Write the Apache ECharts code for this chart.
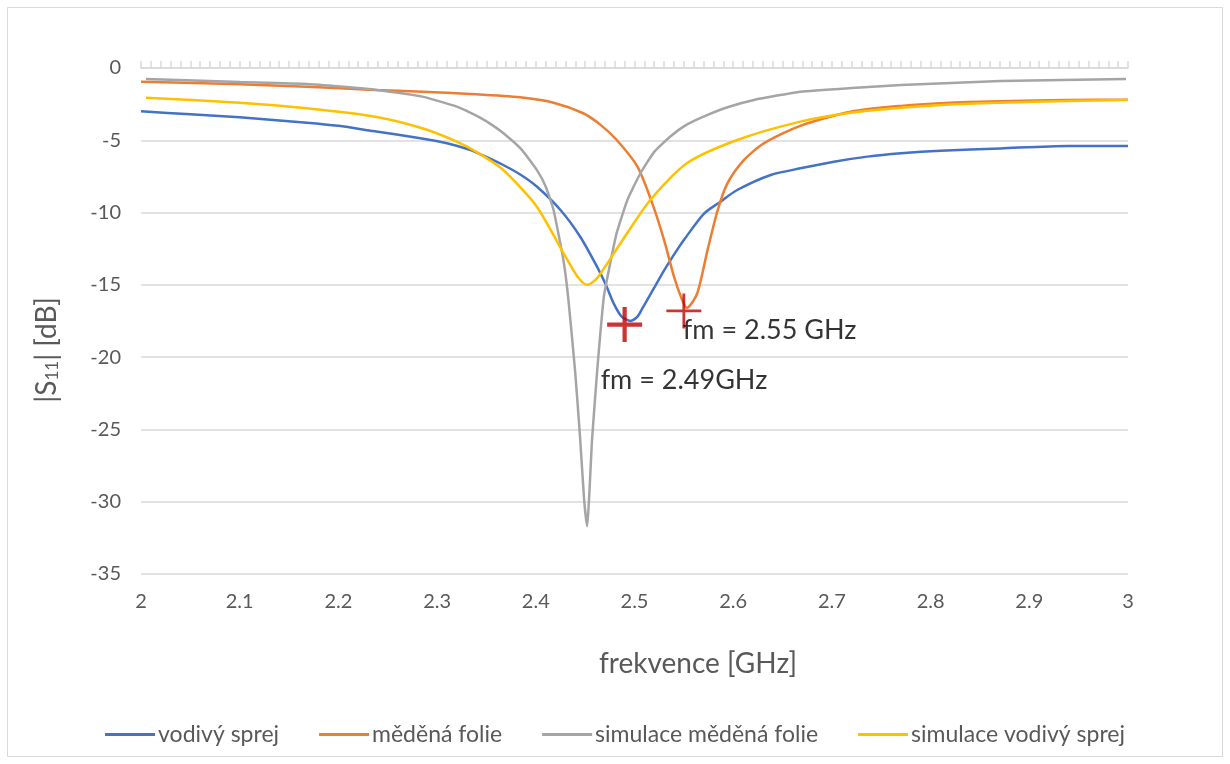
<!DOCTYPE html>
<html>
<head>
<meta charset="utf-8">
<script src="https://cdn.jsdelivr.net/npm/echarts@6/dist/echarts.min.js"></script>
<style>
html,body{margin:0;padding:0;background:#fff;}
#chart{width:1230px;height:764px;}
</style>
</head>
<body>
<div id="chart"></div>
<script>
// ---- data ----
const seriesNames = ['vodivý sprej', 'měděná folie', 'simulace měděná folie', 'simulace vodivý sprej'];

const freqSprej = [2.0, 2.05, 2.1, 2.168, 2.2, 2.235, 2.283, 2.31, 2.334, 2.344, 2.367, 2.385, 2.401, 2.425, 2.445, 2.462, 2.471, 2.479, 2.487, 2.496, 2.503, 2.509, 2.52, 2.53, 2.543, 2.55, 2.57, 2.587, 2.604, 2.638, 2.668, 2.702, 2.736, 2.77, 2.81, 2.871, 2.939, 3.0];
const s11Sprej  = [-3.0, -3.2, -3.41, -3.78, -4.0, -4.36, -4.86, -5.2, -5.67, -5.97, -6.71, -7.4, -8.2, -9.82, -11.67, -13.74, -15.0, -16.3, -17.2, -17.5, -17.2, -16.5, -15.2, -14.0, -12.6, -11.9, -10.1, -9.25, -8.44, -7.4, -6.94, -6.48, -6.13, -5.9, -5.72, -5.56, -5.39, -5.39];

const freqFolie = [2.0, 2.1, 2.168, 2.236, 2.285, 2.334, 2.384, 2.418, 2.448, 2.465, 2.482, 2.503, 2.518, 2.53, 2.54, 2.548, 2.553, 2.5635, 2.574, 2.584, 2.594, 2.611, 2.631, 2.668, 2.719, 2.77, 2.82, 2.871, 2.939, 3.0];
const s11Folie  = [-0.95, -1.13, -1.29, -1.52, -1.64, -1.8, -2.03, -2.4, -3.13, -3.9, -4.98, -6.82, -9.36, -11.9, -14.43, -16.0, -16.6, -15.6, -12.6, -9.9, -8.0, -6.36, -5.21, -4.0, -3.02, -2.62, -2.4, -2.3, -2.21, -2.2];

const freqSimFolie = [2.005, 2.1, 2.168, 2.236, 2.285, 2.32, 2.334, 2.344, 2.356, 2.367, 2.385, 2.401, 2.41, 2.418, 2.428, 2.433, 2.44, 2.445, 2.449, 2.452, 2.457, 2.462, 2.469, 2.476, 2.482, 2.493, 2.506, 2.52, 2.536, 2.552, 2.57, 2.595, 2.621, 2.668, 2.72, 2.77, 2.871, 2.998];
const s11SimFolie  = [-0.76, -0.97, -1.1, -1.48, -1.98, -2.67, -3.1, -3.45, -3.95, -4.5, -5.6, -7.05, -8.2, -9.82, -13.3, -16.0, -21.1, -25.7, -29.9, -31.7, -25.7, -21.1, -15.8, -13.3, -11.4, -9.1, -7.28, -5.8, -4.75, -3.95, -3.36, -2.7, -2.21, -1.64, -1.38, -1.18, -0.9, -0.76];

const freqSimSprej = [2.005, 2.1, 2.168, 2.236, 2.285, 2.32, 2.344, 2.367, 2.401, 2.428, 2.442, 2.452, 2.462, 2.486, 2.516, 2.553, 2.604, 2.668, 2.719, 2.77, 2.82, 2.871, 2.939, 3.0];
const s11SimSprej  = [-2.05, -2.4, -2.79, -3.36, -4.17, -5.1, -5.97, -7.05, -9.59, -12.8, -14.4, -15.0, -14.55, -12.1, -9.13, -6.59, -4.98, -3.71, -3.1, -2.75, -2.52, -2.4, -2.28, -2.21];

const markerFreq = [2.49, 2.55];
const markerS11  = [-17.75, -16.8];
const markerText = ['fm = 2.49GHz', 'fm = 2.55 GHz'];

const xTickLabels = ['2', '2.1', '2.2', '2.3', '2.4', '2.5', '2.6', '2.7', '2.8', '2.9', '3'];
const xTitle = 'frekvence [GHz]';

// ---- build ----
const zip = (xs, ys) => xs.map((x, i) => [x, ys[i]]);
const colors = ['#4472C4', '#ED7D31', '#A5A5A5', '#FFC000'];
const FONT = 'Lato, "Liberation Sans", sans-serif';
const plusThick = 'path://M8.8,0h2.4v8.8h8.8v2.4h-8.8v8.8h-2.4v-8.8h-8.8v-2.4h8.8z';
const plusThin = 'path://M9.2,0h1.6v9.2h9.2v1.6h-9.2v9.2h-1.6v-9.2h-9.2v-1.6h9.2z';

const lineData = [
  zip(freqSprej, s11Sprej),
  zip(freqFolie, s11Folie),
  zip(freqSimFolie, s11SimFolie),
  zip(freqSimSprej, s11SimSprej)
];

const lineSeries = lineData.map((d, i) => ({
  name: seriesNames[i],
  type: 'line',
  data: d,
  showSymbol: false,
  symbol: 'none',
  smooth: i === 2 ? 0.15 : 0.25,
  lineStyle: { color: colors[i], width: 2.5 },
  itemStyle: { color: colors[i] },
  z: 2 + i
}));

const labelOffsets = [[-6.5, 73.5], [16.5, 36.5]];
const markerSeries = {
  name: 'markers',
  type: 'scatter',
  z: 10,
  data: markerFreq.map((f, i) => ({
    value: [f, markerS11[i]],
    symbol: i === 0 ? plusThick : plusThin,
    symbolSize: 35,
    label: {
      show: true,
      formatter: markerText[i],
      position: labelOffsets[i],
      align: 'left',
      verticalAlign: 'middle',
      color: '#000',
      fontSize: 27,
      fontFamily: FONT
    }
  })),
  itemStyle: { color: '#C00000' },
  silent: true
};

const chart = echarts.init(document.getElementById('chart'), null, { renderer: 'canvas' });
chart.setOption({
  backgroundColor: '#fff',
  animation: false,
  textStyle: { fontFamily: FONT },
  graphic: [{
    type: 'rect',
    shape: { x: 7.5, y: 7.5, width: 1215, height: 749 },
    style: { fill: 'none', stroke: '#d9d9d9', lineWidth: 1 },
    silent: true
  }, {
    type: 'text',
    x: 698, y: 664,
    style: { text: xTitle, fill: '#595959', fontSize: 28, fontFamily: FONT, align: 'center', verticalAlign: 'middle' },
    silent: true
  }, {
    type: 'text',
    x: 47, y: 350,
    rotation: Math.PI / 2,
    style: {
      text: '{a||S}{s|11}{a|| [dB]}',
      align: 'center', verticalAlign: 'middle',
      rich: {
        a: { fill: '#595959', fontSize: 28, fontFamily: FONT },
        s: { fill: '#595959', fontSize: 17, fontFamily: FONT, padding: [12, 0, 0, 0] }
      }
    },
    silent: true
  }],
  grid: { left: 141, right: 102, top: 68, bottom: 190, containLabel: false },
  legend: {
    data: seriesNames,
    left: 'center',
    top: 718,
    icon: 'rect',
    itemWidth: 50,
    itemHeight: 3,
    itemGap: 40,
    textStyle: { color: '#595959', fontSize: 23, fontFamily: FONT, padding: [0, 0, 0, -2] }
  },
  xAxis: [{
    type: 'value',
    min: 2, max: 3, interval: 0.1,
    position: 'bottom',
    axisLine: { show: false, onZero: false },
    axisTick: { show: false },
    splitLine: { show: false },
    axisLabel: {
      color: '#595959', fontSize: 20, margin: 18,
      formatter: (v) => xTickLabels[Math.round((v - 2) * 10)]
    }
  }, {
    type: 'value',
    min: 2, max: 3, interval: 0.01,
    position: 'top',
    axisLine: { show: true, onZero: false, lineStyle: { color: '#d9d9d9', width: 1.5 } },
    axisTick: { show: true, length: 7, lineStyle: { color: '#d9d9d9', width: 1.5 } },
    axisLabel: { show: false },
    splitLine: { show: false }
  }],
  yAxis: {
    type: 'value',
    min: -35, max: 0, interval: 5,
    axisLine: { show: false },
    axisTick: { show: false },
    splitLine: { lineStyle: { color: '#d9d9d9', width: 1.5 } },
    axisLabel: { color: '#595959', fontSize: 20, margin: 20 }
  },
  series: lineSeries.concat([markerSeries])
});
</script>
</body>
</html>
